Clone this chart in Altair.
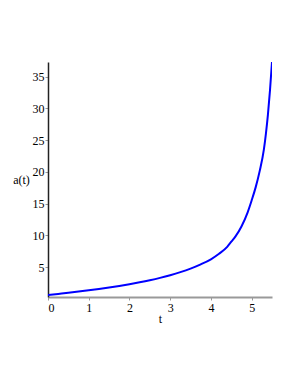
import altair as alt
import pandas as pd

t_vals = [0, 0.25, 0.5, 0.75, 1, 1.25, 1.5, 1.75, 2, 2.25, 2.5, 2.75, 3, 3.25, 3.5,
          3.75, 4, 4.2, 4.4, 4.5, 4.6, 4.75, 4.9, 5.0, 5.1, 5.2, 5.3, 5.35, 5.4, 5.45, 5.5]
a_vals = [0.6, 0.78, 0.96, 1.15, 1.35, 1.56, 1.79, 2.04, 2.31, 2.61, 2.94, 3.31, 3.73, 4.21, 4.77,
          5.44, 6.24, 7.1, 8.2, 9.0, 9.8, 11.4, 13.6, 15.5, 17.6, 20.2, 23.5, 26.0, 29.0, 32.8, 37.3]
x_ticks = [0, 1, 2, 3, 4, 5]
y_ticks = [5, 10, 15, 20, 25, 30, 35]

df = pd.DataFrame({"t": t_vals, "a": a_vals})

W, H = 224, 235
SERIF = "serif"

chart = alt.Chart(df).mark_line(color="#0000ff", strokeWidth=2, clip=True, interpolate="monotone").encode(
    x=alt.X("t:Q", scale=alt.Scale(domain=[0, 5.5], nice=False, zero=False),
            axis=alt.Axis(values=x_ticks, title="t", grid=False, domainColor="#999999",
                          domainWidth=2, tickColor="#999999", tickSize=3, labelPadding=2,
                          labelFont=SERIF, labelFontSize=12, labelColor="black",
                          titleFont=SERIF, titleFontSize=12, titleFontWeight="normal",
                          titlePadding=0)),
    y=alt.Y("a:Q", scale=alt.Scale(domain=[0.3, 37.3], nice=False, zero=False),
            axis=alt.Axis(values=y_ticks, title="a(t)", grid=False, domainColor="#222222",
                          domainWidth=1.5, tickColor="#999999", tickSize=3, labelPadding=1,
                          labelFont=SERIF, labelFontSize=12, labelColor="black",
                          titleFont=SERIF, titleFontSize=12, titleFontWeight="normal",
                          titleAngle=0, titleAlign="center", titleBaseline="middle",
                          titleX=-27, titleY=H / 2)),
).properties(
    width=W, height=H,
    autosize=alt.AutoSizeParams(type="none"),
    padding={"left": 40, "top": 54, "right": 15, "bottom": 60},
).configure_view(stroke=None)

chart.save("out.html", embed_options={"renderer": "svg", "actions": False})
